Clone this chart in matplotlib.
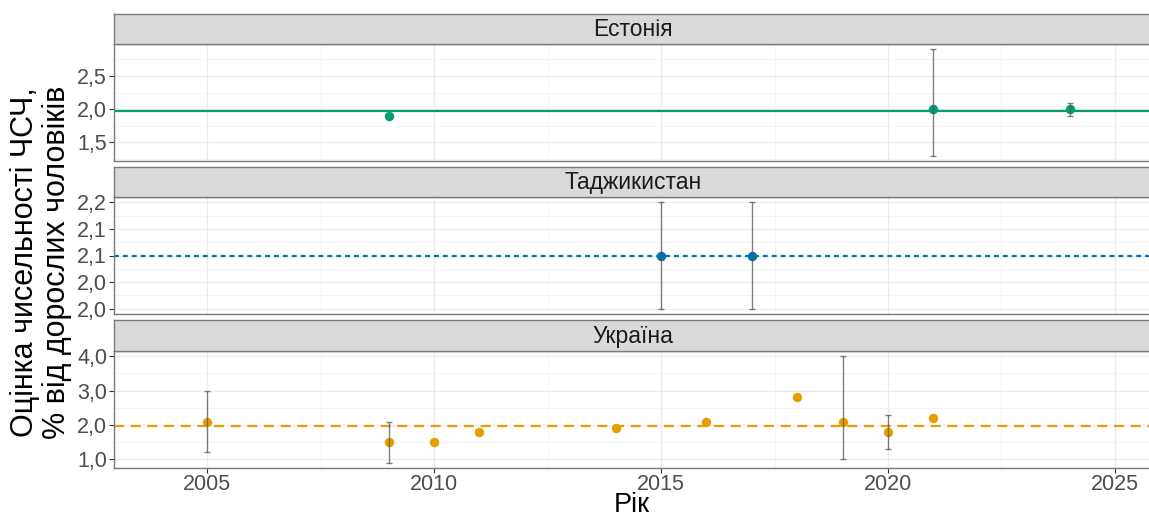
#!/usr/env/python
import numpy as np
import matplotlib as mpl
mpl.use('Agg')
from matplotlib import pyplot as plt
from matplotlib.ticker import FixedLocator

## Data
countries = ['Естонія', 'Таджикистан', 'Україна']
colors = ['#009E73', '#0072B2', '#E69F00']

est_years = [2009, 2021, 2024]
est_vals = [1.9, 2.0, 2.0]
est_lo = [np.nan, 1.3, 1.9]
est_hi = [np.nan, 2.9, 2.1]

tjk_years = [2015, 2017]
tjk_vals = [2.1, 2.1]
tjk_lo = [2.0, 2.0]
tjk_hi = [2.2, 2.2]

ukr_years = [2005, 2009, 2010, 2011, 2014, 2016, 2018, 2019, 2020, 2021]
ukr_vals = [2.1, 1.5, 1.5, 1.8, 1.9, 2.1, 2.8, 2.1, 1.8, 2.2]
ukr_lo = [1.2, 0.9, np.nan, np.nan, np.nan, np.nan, np.nan, 1.0, 1.3, np.nan]
ukr_hi = [3.0, 2.1, np.nan, np.nan, np.nan, np.nan, np.nan, 4.0, 2.3, np.nan]

est_ticks = [1.5, 2.0, 2.5]
est_ticklabels = ['1,5', '2,0', '2,5']
tjk_ticks = [2.0, 2.05, 2.1, 2.15, 2.2]
tjk_ticklabels = ['2,0', '2,0', '2,1', '2,1', '2,2']
ukr_ticks = [1.0, 2.0, 3.0, 4.0]
ukr_ticklabels = ['1,0', '2,0', '3,0', '4,0']

x_ticks = [2005, 2010, 2015, 2020, 2025]

ylabel = 'Оцінка чисельності ЧСЧ,\n% від дорослих чоловіків'
xlabel = 'Рік'

##-------------------------------------------------------------------------
def main():
    plt.rcParams['font.family'] = ['Liberation Sans', 'DejaVu Sans']

    panels = [
        (est_years, est_vals, est_lo, est_hi, est_ticks, est_ticklabels, '-'),
        (tjk_years, tjk_vals, tjk_lo, tjk_hi, tjk_ticks, tjk_ticklabels,
         (0, (2.2, 1.8))),
        (ukr_years, ukr_vals, ukr_lo, ukr_hi, ukr_ticks, ukr_ticklabels,
         (0, (4.5, 3.0))),
    ]

    W, H = 1149, 518
    fig = plt.figure(figsize=(W/100, H/100), dpi=100)

    left = 114/W
    right = 1.002
    # (strip top, panel top, panel bottom) in pixels
    rows = [(14, 44, 161), (167, 197, 314), (320, 351, 468)]
    edge = '#7a7a7a'

    for i, (yrs, vals, lo, hi, ticks, tlabels, ls) in enumerate(panels):
        s_top, p_top, p_bot = rows[i]
        ax = fig.add_axes([left, (H-p_bot)/H, right-left, (p_bot-p_top)/H])
        sax = fig.add_axes([left, (H-p_top)/H, right-left, (p_top-s_top)/H])

        # strip
        sax.set_facecolor('#D9D9D9')
        sax.set_xticks([]); sax.set_yticks([])
        for sp in sax.spines.values():
            sp.set_color(edge); sp.set_linewidth(1.0)
        sax.text(0.5, 0.47, countries[i], transform=sax.transAxes,
                 ha='center', va='center', fontsize=16.5, color='#1A1A1A')

        yrs = np.array(yrs); vals = np.array(vals)
        lo = np.array(lo); hi = np.array(hi)

        ax.axhline(np.mean(vals), color=colors[i], lw=1.6, ls=ls, zorder=2)
        ax.plot(yrs, vals, 'o', color=colors[i], ms=6.8, mec='none', zorder=3)
        m = ~np.isnan(lo)
        ax.errorbar(yrs[m], vals[m], yerr=[vals[m]-lo[m], hi[m]-vals[m]],
                    fmt='none', ecolor='#555555', alpha=0.75, elinewidth=1.0,
                    capsize=2.2, capthick=1.0, zorder=4)

        # ggplot-like 5% expansion
        allv = np.concatenate([vals, lo[m], hi[m]])
        ymin, ymax = allv.min(), allv.max()
        pad = 0.05*(ymax-ymin)
        ax.set_ylim(ymin-pad, ymax+pad)
        ax.set_xlim(2002.95, 2025.8)

        ax.set_yticks(ticks)
        ax.set_yticklabels(tlabels)
        d = ticks[1] - ticks[0]
        minor_y = [ticks[0] - d/2] + [t + d/2 for t in ticks]
        ax.yaxis.set_minor_locator(FixedLocator(minor_y))
        ax.set_xticks(x_ticks)
        ax.xaxis.set_minor_locator(FixedLocator([2002.5, 2007.5, 2012.5, 2017.5, 2022.5]))

        ax.grid(which='major', color='#EBEBEB', lw=0.9, zorder=0)
        ax.grid(which='minor', color='#F2F2F2', lw=0.6, zorder=0)
        ax.set_axisbelow(True)
        for sp in ax.spines.values():
            sp.set_color(edge); sp.set_linewidth(1.0)
        ax.tick_params(axis='y', which='major', length=3.5, color='#333333',
                       labelsize=15.5, labelcolor='#4D4D4D', pad=1.5)
        ax.tick_params(which='minor', length=0)
        if i < 2:
            ax.tick_params(axis='x', which='major', length=0, labelbottom=False)
        else:
            ax.tick_params(axis='x', which='major', length=3.5, color='#333333',
                           labelsize=15.5, labelcolor='#4D4D4D', pad=1)

    fig.text(left + (1-left)/2, 0.5/H, xlabel, ha='center', va='bottom',
             fontsize=19.5, color='black')
    fig.text(41/W, (H-262)/H, ylabel, rotation=90, ha='center', va='center',
             fontsize=22, color='black', linespacing=1.05)

    plt.savefig('out.png', dpi=100)


if __name__ == '__main__':
    main()
